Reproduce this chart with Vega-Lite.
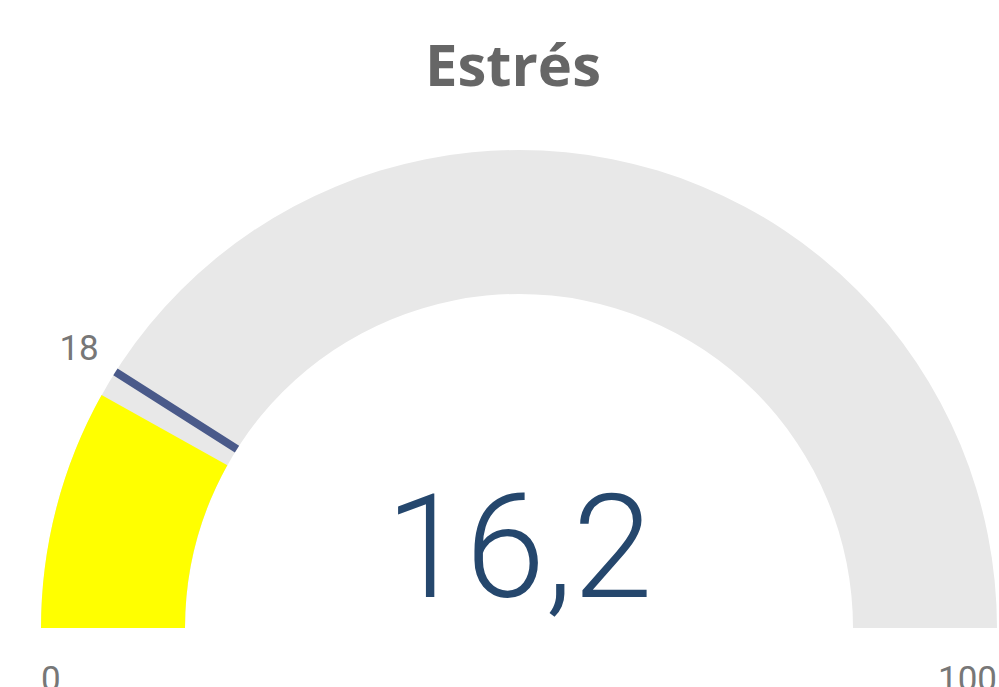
{
  "$schema": "https://vega.github.io/schema/vega-lite/v6.json",
  "width": 960,
  "height": 478,
  "autosize": {"type": "none"},
  "padding": {"left": 39, "right": 0, "top": 150, "bottom": 59},
  "background": "#ffffff",
  "title": {
    "text": "Estrés",
    "fontSize": 58,
    "fontWeight": "bold",
    "font": "Open Sans",
    "color": "#666666",
    "anchor": "middle",
    "baseline": "alphabetic",
    "offset": 6,
    "dx": -6
  },
  "data": {"values": [{"measure": "Estrés", "value": 16.2, "value_label": "16,2", "target": 18, "min": 0, "max": 100}]},
  "encoding": {
    "theta": {"field": "min", "type": "quantitative", "stack": null, "scale": {"domain": [0, 100], "range": [-1.5707963, 1.5707963]}}
  },
  "layer": [
    {
      "mark": {"type": "arc", "radius": 478, "radius2": 334, "y": "height", "color": "#E8E8E8"},
      "encoding": {"theta2": {"field": "max"}}
    },
    {
      "mark": {"type": "arc", "radius": 478, "radius2": 334, "y": "height", "color": "#FFFF00"},
      "encoding": {"theta2": {"field": "value"}}
    },
    {
      "mark": {"type": "arc", "radius": 478, "radius2": 334, "y": "height", "fill": null, "fillOpacity": 0, "stroke": "#4A5A8A", "strokeWidth": 8},
      "encoding": {
        "theta": {"field": "target", "type": "quantitative", "stack": null},
        "theta2": {"field": "target"}
      }
    },
    {
      "mark": {"type": "text", "radius": 521, "y": "height", "font": "Roboto", "fontSize": 35, "color": "#777777", "align": "center", "baseline": "middle"},
      "encoding": {
        "theta": {"field": "target", "type": "quantitative", "stack": null},
        "text": {"field": "target", "type": "quantitative"}
      }
    },
    {
      "mark": {"type": "text", "radius": 478, "y": "height", "font": "Roboto", "fontSize": 35, "color": "#777777", "align": "left", "baseline": "top", "dy": 35},
      "encoding": {
        "text": {"field": "min", "type": "quantitative"}
      }
    },
    {
      "mark": {"type": "text", "radius": 478, "y": "height", "font": "Roboto", "fontSize": 35, "color": "#777777", "align": "right", "baseline": "top", "dy": 35},
      "encoding": {
        "theta": {"field": "max", "type": "quantitative", "stack": null},
        "text": {"field": "max", "type": "quantitative"}
      }
    },
    {
      "mark": {"type": "text", "y": "height", "dy": -31, "font": "Roboto", "fontSize": 144, "fontWeight": 300, "color": "#25476D", "align": "center", "baseline": "alphabetic"},
      "encoding": {
        "theta": null,
        "text": {"field": "value_label", "type": "nominal"}
      }
    }
  ]
}
